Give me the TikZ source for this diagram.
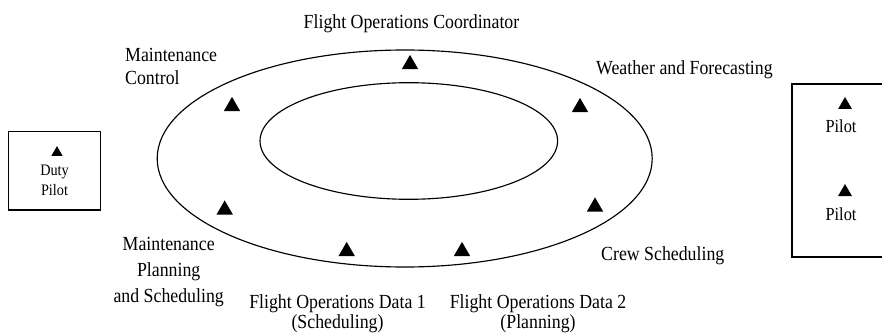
\documentclass[tikz,border=0pt]{standalone}
\usepackage{fontspec}
\setmainfont{Liberation Serif}[FakeStretch=0.89]
\usetikzlibrary{shapes.geometric}
\begin{document}
\begin{tikzpicture}[x=1pt,y=1pt,
  lbl/.style={inner sep=0pt,font=\fontsize{20}{22.6}\selectfont},
  boxtxt/.style={inner sep=0pt,align=center},
  bigtri/.style={regular polygon,regular polygon sides=3,fill=black,inner sep=0pt,minimum size=19pt},
  smalltri/.style={regular polygon,regular polygon sides=3,fill=black,inner sep=0pt,minimum size=13pt},
  midtri/.style={regular polygon,regular polygon sides=3,fill=black,inner sep=0pt,minimum size=16pt},
  ring/.style={draw,line width=1.15pt},
  frame/.style={draw,line width=1.2pt}]
\useasboundingbox (0,0) rectangle (882,335);
\clip (0,0) rectangle (882,335);
% ellipses
\node[ring,ellipse,minimum width=495pt,minimum height=217pt,inner sep=0pt] (outer) at (404.7,176.5) {};
\node[ring,ellipse,minimum width=297.6pt,minimum height=116.6pt,inner sep=0pt] (inner) at (408.8,194) {};
% boxes
\node[frame,draw,minimum width=92.4pt,minimum height=78.3pt,inner sep=0pt] (dutybox) at (54.5,164.15) {};
\node[frame,draw,minimum width=98pt,minimum height=173pt,inner sep=0pt] (pilotbox) at (841,164.5) {};
% triangles on ring
\node[bigtri] (t1) at (410,270.6) {};
\node[bigtri] (t2) at (232,228.6) {};
\node[bigtri] (t3) at (580,227.6) {};
\node[bigtri] (t4) at (224.7,125.1) {};
\node[bigtri] (t5) at (346.7,83.6) {};
\node[bigtri] (t6) at (462,83.6) {};
\node[bigtri] (t7) at (595,128.1) {};
% box triangles
\node[smalltri] (t8) at (57,182.4) {};
\node[midtri] (t9) at (845,230) {};
\node[midtri] (t10) at (845,143) {};
% labels
\node[lbl,anchor=base] (foc) at (411.5,306) {Flight Operations Coordinator};
\node[lbl,anchor=base west,align=left] (mc) at (125,250.7) {Maintenance\\Control};
\node[lbl,anchor=base west] (wf) at (596,260.5) {Weather and Forecasting};
\node[lbl,anchor=base west] (cs) at (601,75) {Crew Scheduling};
\node[lbl,anchor=base,align=center,font=\fontsize{20}{25.8}\selectfont] (mps) at (168.7,32.7) {Maintenance\\Planning\\and Scheduling};
\node[lbl,anchor=base,align=center,font=\fontsize{20}{20}\selectfont] (fod1) at (337.5,6.7) {Flight Operations Data 1\\(Scheduling)};
\node[lbl,anchor=base,align=center,font=\fontsize{20}{20}\selectfont] (fod2) at (538,6.7) {Flight Operations Data 2\\(Planning)};
\node[boxtxt,anchor=base,font=\fontsize{16}{20}\selectfont] (duty) at (54.5,140) {Duty\\Pilot};
\node[boxtxt,anchor=base,font=\fontsize{18.4}{20}\selectfont] (p1) at (841,202.7) {Pilot};
\node[boxtxt,anchor=base,font=\fontsize{18.4}{20}\selectfont] (p2) at (841,115) {Pilot};
\end{tikzpicture}
\end{document}
